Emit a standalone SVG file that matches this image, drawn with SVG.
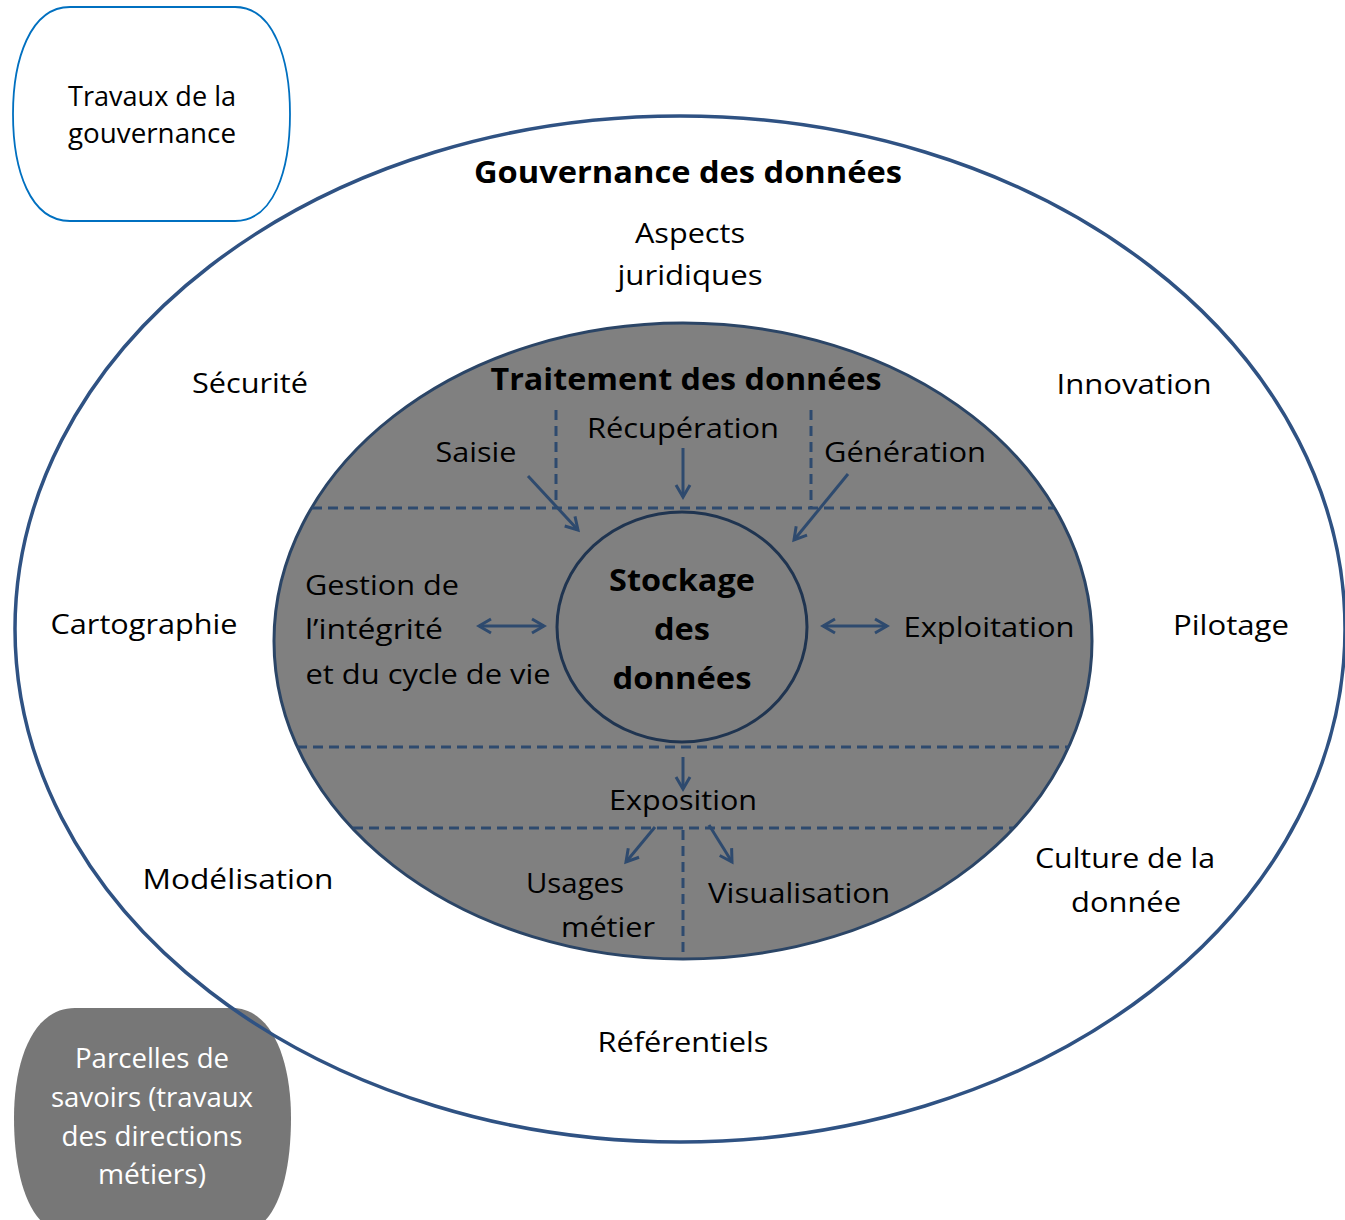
<svg xmlns="http://www.w3.org/2000/svg" width="1345" height="1220" viewBox="0 0 1345 1220">
<style>
text{font-family:"Open Sans","Liberation Sans",sans-serif;font-size:28px;fill:#000;text-anchor:middle}
.b{font-weight:bold;font-size:31px}
.w{fill:#fff}
.dash{stroke:#2e4a6e;stroke-width:3;stroke-dasharray:10 6;fill:none}
.arr{stroke:#2e4a6e;stroke-width:3;fill:none;marker-end:url(#ah)}
.dbl{stroke:#2e4a6e;stroke-width:3;fill:none;marker-end:url(#ah);marker-start:url(#ah)}
</style>
<defs>
<marker id="ah" markerUnits="userSpaceOnUse" markerWidth="18" markerHeight="18" viewBox="0 0 18 18" refX="15" refY="9" orient="auto-start-reverse">
<path d="M3,2 L15,9 L3,16" stroke="#2e4a6e" stroke-width="3" fill="none"/>
</marker>
</defs>
<rect width="1345" height="1220" fill="#fff"/>
<g id="parcelles">
<path d="M75,1008 H232 C272,1008 291,1060 291,1118 C291,1180 275,1232 240,1232 H66 C31,1232 14,1180 14,1118 C14,1060 33,1008 75,1008 Z" fill="#777"/>
<text class="w" x="152" y="1068" textLength="154" lengthAdjust="spacingAndGlyphs">Parcelles de</text>
<text class="w" x="152" y="1107" textLength="202" lengthAdjust="spacingAndGlyphs">savoirs (travaux</text>
<text class="w" x="152" y="1146" textLength="181" lengthAdjust="spacingAndGlyphs">des directions</text>
<text class="w" x="152" y="1184" textLength="108" lengthAdjust="spacingAndGlyphs">métiers)</text>
</g>
<g id="gouvernance">
<ellipse cx="680" cy="629" rx="665" ry="513" fill="none" stroke="#2f5283" stroke-width="3.5"/>
<text class="b" x="688" y="183" textLength="428" lengthAdjust="spacingAndGlyphs">Gouvernance des données</text>
</g>
<g id="travaux">
<path d="M70,7 H235 C274,7 290,60 290,114 C290,170 274,221 235,221 H70 C30,221 13,170 13,114 C13,60 30,7 70,7 Z" fill="#fff" stroke="#0070c0" stroke-width="1.8"/>
<text x="152" y="106" textLength="168" lengthAdjust="spacingAndGlyphs">Travaux de la</text>
<text x="152" y="143" textLength="168" lengthAdjust="spacingAndGlyphs">gouvernance</text>
</g>
<g id="aspects"><text x="690" y="243" textLength="110" lengthAdjust="spacingAndGlyphs">Aspects</text><text x="690" y="285" textLength="145" lengthAdjust="spacingAndGlyphs">juridiques</text></g>
<g id="securite"><text x="250" y="393" textLength="116" lengthAdjust="spacingAndGlyphs">Sécurité</text></g>
<g id="innovation"><text x="1134" y="394" textLength="155" lengthAdjust="spacingAndGlyphs">Innovation</text></g>
<g id="cartographie"><text x="144" y="634" textLength="187" lengthAdjust="spacingAndGlyphs">Cartographie</text></g>
<g id="pilotage"><text x="1231" y="635" textLength="116" lengthAdjust="spacingAndGlyphs">Pilotage</text></g>
<g id="modelisation"><text x="238" y="889" textLength="191" lengthAdjust="spacingAndGlyphs">Modélisation</text></g>
<g id="culture"><text x="1125" y="868" textLength="180" lengthAdjust="spacingAndGlyphs">Culture de la</text><text x="1126" y="912" textLength="110" lengthAdjust="spacingAndGlyphs">donnée</text></g>
<g id="referentiels"><text x="683" y="1052" textLength="171" lengthAdjust="spacingAndGlyphs">Référentiels</text></g>
<g id="traitement">
<ellipse cx="683" cy="641" rx="409" ry="318" fill="#808080" stroke="#2b4566" stroke-width="3"/>
<text class="b" x="686" y="390" textLength="391" lengthAdjust="spacingAndGlyphs">Traitement des données</text>
</g>
<g id="dividers">
<line class="dash" x1="312" y1="508" x2="1054" y2="508"/>
<line class="dash" x1="297" y1="747" x2="1069" y2="747"/>
<line class="dash" x1="353" y1="828" x2="1013" y2="828"/>
<line class="dash" x1="556" y1="410" x2="556" y2="508"/>
<line class="dash" x1="811" y1="410" x2="811" y2="508"/>
<line class="dash" x1="683" y1="830" x2="683" y2="956"/>
</g>
<g id="stockage">
<ellipse cx="682" cy="627" rx="125" ry="115" fill="none" stroke="#1f3450" stroke-width="3"/>
<text class="b" x="682" y="591" textLength="146" lengthAdjust="spacingAndGlyphs">Stockage</text>
<text class="b" x="682" y="640" textLength="56" lengthAdjust="spacingAndGlyphs">des</text>
<text class="b" x="682" y="689" textLength="139" lengthAdjust="spacingAndGlyphs">données</text>
</g>
<g id="saisie"><text x="476" y="462" textLength="81" lengthAdjust="spacingAndGlyphs">Saisie</text></g>
<g id="recuperation"><text x="683" y="438" textLength="192" lengthAdjust="spacingAndGlyphs">Récupération</text></g>
<g id="generation"><text x="905" y="462" textLength="162" lengthAdjust="spacingAndGlyphs">Génération</text></g>
<g id="gestion">
<text x="382" y="595" textLength="154" lengthAdjust="spacingAndGlyphs">Gestion de</text>
<text x="374" y="639" textLength="138" lengthAdjust="spacingAndGlyphs">l’intégrité</text>
<text x="428" y="684" textLength="245" lengthAdjust="spacingAndGlyphs">et du cycle de vie</text>
</g>
<g id="exploitation"><text x="989" y="637" textLength="171" lengthAdjust="spacingAndGlyphs">Exploitation</text></g>
<g id="exposition"><text x="683" y="810" textLength="148" lengthAdjust="spacingAndGlyphs">Exposition</text></g>
<g id="usages"><text x="575" y="893" textLength="98" lengthAdjust="spacingAndGlyphs">Usages</text><text x="608" y="937" textLength="94" lengthAdjust="spacingAndGlyphs">métier</text></g>
<g id="visualisation"><text x="799" y="903" textLength="182" lengthAdjust="spacingAndGlyphs">Visualisation</text></g>
<g id="connectors">
<line class="arr" x1="528" y1="476" x2="578" y2="530"/>
<line class="arr" x1="683" y1="448" x2="683" y2="497"/>
<line class="arr" x1="848" y1="474" x2="794" y2="540"/>
<line class="dbl" x1="479" y1="626" x2="544" y2="626"/>
<line class="dbl" x1="823" y1="626" x2="887" y2="626"/>
<line class="arr" x1="683" y1="757" x2="683" y2="789"/>
<line class="arr" x1="655" y1="827" x2="626" y2="862"/>
<line class="arr" x1="709" y1="825" x2="732" y2="862"/>
</g>
</svg>
